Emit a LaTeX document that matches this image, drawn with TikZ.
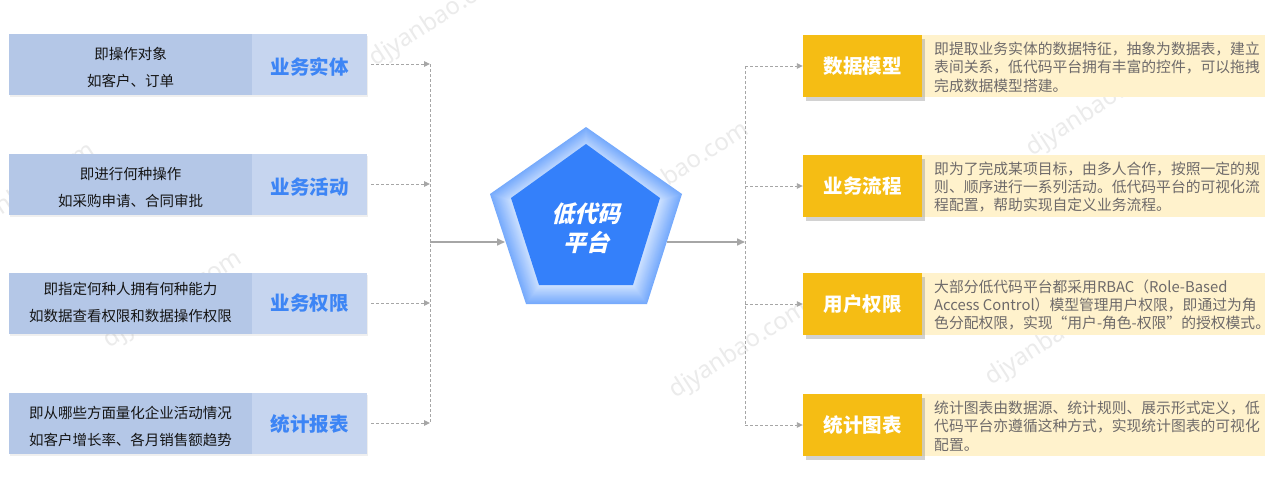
\documentclass[tikz,border=0pt]{standalone}
\usepackage{fontspec}
\setmainfont{Noto Sans CJK SC}
\newfontfamily\slantfont{Noto Sans CJK SC}[FakeSlant=0.25]
\newfontfamily\wmfont{Noto Sans}
\usetikzlibrary{arrows.meta,shadows,calc}
\definecolor{descblue}{HTML}{B4C7E7}
\definecolor{labblue}{HTML}{C6D5EF}
\definecolor{labtext}{HTML}{3D85F5}
\definecolor{gold}{HTML}{F5BD14}
\definecolor{cream}{HTML}{FFF2CC}
\definecolor{paneltext}{HTML}{6E6A6A}
\definecolor{linegray}{HTML}{A6A6A6}
\definecolor{coreblue}{HTML}{3480FA}
\definecolor{ringlight}{HTML}{D0E3FF}
\definecolor{ringdark}{HTML}{76AAFC}
\begin{document}
\begin{tikzpicture}[x=1pt,y=-1pt,
  wmark/.style={font=\wmfont\fontsize{24}{24}\selectfont, text=black!8, rotate=33},
  descbox/.style={fill=descblue, minimum width=243pt, minimum height=61pt, inner sep=0pt,
    drop shadow={opacity=0.12, shadow xshift=1pt, shadow yshift=-2.5pt}},
  labbox/.style={fill=labblue, minimum width=115pt, minimum height=61pt, inner sep=0pt,
    drop shadow={opacity=0.12, shadow xshift=1pt, shadow yshift=-2.5pt}},
  labtxt/.style={font=\bfseries\fontsize{19.5}{22}\selectfont, text=labtext, inner sep=0pt},
  desctxt/.style={font=\fontsize{14.5}{27}\selectfont, align=center, text=black!92, inner sep=0pt},
  goldbox/.style={fill=gold, minimum width=119pt, minimum height=62pt, inner sep=0pt,
    drop shadow={opacity=0.35, shadow xshift=3pt, shadow yshift=-4pt}},
  goldtxt/.style={font=\bfseries\fontsize{19.5}{22}\selectfont, text=white, inner sep=0pt},
  panel/.style={fill=cream, minimum width=343pt, minimum height=62pt, inner sep=0pt},
  paneltxt/.style={font=\fontsize{14.8}{18.4}\selectfont, align=left, text=paneltext, inner sep=0pt, anchor=west},
  dashconn/.style={draw=linegray, line width=0.9pt, dash pattern=on 3pt off 2pt},
  dasharrow/.style={dashconn, -{Triangle[length=6pt,width=5.5pt]}},
  mainarrow/.style={draw=linegray, line width=1.6pt, -{Triangle[length=8pt,width=7pt]}}
]
\useasboundingbox (0,0) rectangle (1280,482);
\fill[white] (0,0) rectangle (1280,482);

% watermarks
\node[wmark] (w1) at (439,18) {djyanbao.com};
\node[wmark] (w2) at (26,192) {djyanbao.com};
\node[wmark] (w3) at (173,300) {djyanbao.com};
\node[wmark] (w4) at (680,171) {djyanbao.com};
\node[wmark] (w5) at (1096,108) {djyanbao.com};
\node[wmark] (w6) at (739,350) {djyanbao.com};
\node[wmark] (w7) at (1055,337) {djyanbao.com};

% left boxes
\foreach \i/\c in {1/64,2/184,3/303,4/423}{
  \node[descbox] (d\i) at (130.5,\c) {};
  \node[labbox] (l\i) at (309.5,\c) {};
}
\node[desctxt] (t1) at (130.5,68) {即操作对象\\如客户、订单};
\node[desctxt] (t2) at (130.5,187) {即进行何种操作\\如采购申请、合同审批};
\node[desctxt] (t3) at (130.5,302) {即指定何种人拥有何种能力\\如数据查看权限和数据操作权限};
\node[desctxt] (t4) at (130.5,426) {即从哪些方面量化企业活动情况\\如客户增长率、各月销售额趋势};
\node[labtxt] (k1) at (309.5,67) {业务实体};
\node[labtxt] (k2) at (309.5,187) {业务活动};
\node[labtxt] (k3) at (309.5,303) {业务权限};
\node[labtxt] (k4) at (309.5,424) {统计报表};

% left collector
\coordinate (jl1) at (430,64);
\coordinate (jl2) at (430,184);
\coordinate (jl3) at (430,303);
\coordinate (jl4) at (430,423);
\coordinate (jlm) at (430,242);
\draw[dashconn] (jl1) -- (jl4);
\foreach \i in {1,2,3,4}{
  \draw[dasharrow] ($(l\i.east)+(4,0)$) -- (jl\i);
}

% pentagon: graded outer ring
\foreach \k in {0,...,24}{
  \pgfmathsetmacro\s{1-\k*0.0105}
  \pgfmathsetmacro\m{min(100,\k*4.5)}
  \fill[ringlight!\m!ringdark, shift={(586,224)}, scale=\s, shift={(-586,-224)}]
    (586,127) -- (682,194) -- (647,304) -- (526,304) -- (490,194) -- cycle;
}
\fill[coreblue] (586,144) -- (660,198) -- (633,285) -- (539,285) -- (511,198) -- cycle;
\node[font=\slantfont\bfseries\fontsize{23}{29}\selectfont, text=white, align=center, inner sep=0pt] (core) at (586,228) {低代码\\平台};
\coordinate (pin) at (505,242);
\coordinate (pout) at (667,242);
\draw[mainarrow] (jlm) -- (pin);

% right distributor
\coordinate (jr1) at (745,66);
\coordinate (jr2) at (745,186);
\coordinate (jr3) at (745,304);
\coordinate (jr4) at (745,425);
\coordinate (jrm) at (745,242);
\draw[mainarrow] (pout) -- (jrm);
\draw[dashconn] (jr1) -- (jr4);

% right panels and gold boxes
\foreach \i/\c in {1/66,2/186,3/304,4/425}{
  \node[panel] (p\i) at (1093.5,\c) {};
  \node[goldbox] (g\i) at (862.5,\c) {};
  \draw[dasharrow] (jr\i) -- (g\i.west);
}
\node[goldtxt] (gl1) at (g1) {数据模型};
\node[goldtxt] (gl2) at (g2) {业务流程};
\node[goldtxt] (gl3) at (g3) {用户权限};
\node[goldtxt] (gl4) at (g4) {统计图表};

\node[paneltxt] (x1) at (934,67) {即提取业务实体的数据特征，抽象为数据表，建立\\表间关系，低代码平台拥有丰富的控件，可以拖拽\\完成数据模型搭建。};
\node[paneltxt] (x2) at (934,187) {即为了完成某项目标，由多人合作，按照一定的规\\则、顺序进行一系列活动。低代码平台的可视化流\\程配置，帮助实现自定义业务流程。};
\node[paneltxt] (x3) at (934,305) {大部分低代码平台都采用RBAC（Role-Based\\Access Control）模型管理用户权限，即通过为角\\色分配权限，实现“用户-角色-权限”的授权模式。};
\node[paneltxt] (x4) at (934,426) {统计图表由数据源、统计规则、展示形式定义，低\\代码平台亦遵循这种方式，实现统计图表的可视化\\配置。};
\end{tikzpicture}
\end{document}
